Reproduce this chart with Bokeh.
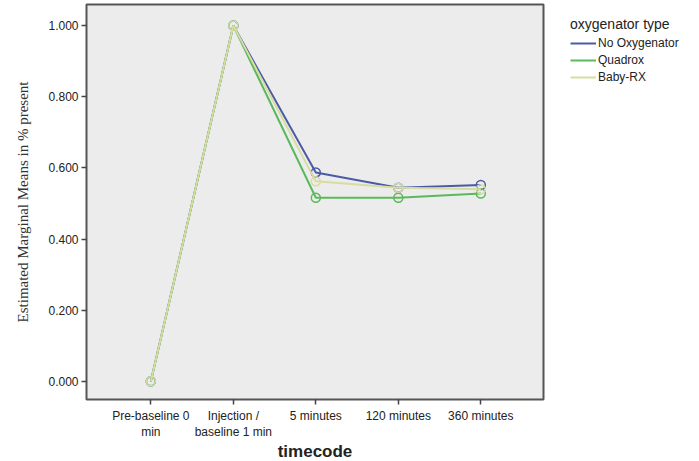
from bokeh.plotting import figure
from bokeh.models import Legend, LegendItem, FixedTicker, NumeralTickFormatter, Range1d
from bokeh.embed import file_html
from bokeh.resources import INLINE

categories = ["Pre-baseline 0\nmin", "Injection /\nbaseline 1 min", "5 minutes", "120 minutes", "360 minutes"]
x_pos = [0, 1, 2, 3, 4]
no_oxygenator = [0.0, 1.0, 0.587, 0.544, 0.552]
quadrox = [0.0, 1.0, 0.516, 0.516, 0.528]
baby_rx = [0.0, 1.0, 0.562, 0.544, 0.540]
series_names = ["No Oxygenator", "Quadrox", "Baby-RX"]
colors = ["#4b5aa6", "#5cb85c", "#d7dca0"]
y_ticks = [0.0, 0.2, 0.4, 0.6, 0.8, 1.0]

p = figure(frame_width=457, frame_height=395, output_backend="svg", toolbar_location=None,
           x_range=Range1d(-0.78, 4.76), y_range=Range1d(-0.051, 1.059))
p.min_border_top = 4
p.min_border_left = 86
p.min_border_bottom = 56
p.min_border_right = 150
p.border_fill_color = "white"
p.background_fill_color = "#ececec"
p.outline_line_color = "#555555"
p.outline_line_width = 2
p.xgrid.visible = False
p.ygrid.visible = False

renderers = []
for vals, name, col in zip([no_oxygenator, quadrox, baby_rx], series_names, colors):
    r = p.line(x_pos, vals, line_color=col, line_width=2)
    p.scatter(x_pos, vals, marker="circle", size=9, line_color=col, line_width=1.5, fill_color=None)
    renderers.append((name, r))

p.xaxis.ticker = FixedTicker(ticks=x_pos)
p.xaxis.major_label_overrides = {i: c for i, c in zip(x_pos, categories)}
p.yaxis.ticker = FixedTicker(ticks=y_ticks)
p.yaxis.formatter = NumeralTickFormatter(format="0.000")
for ax in (p.xaxis, p.yaxis):
    ax.axis_line_color = None
    ax.major_tick_line_color = "#444444"
    ax.major_tick_line_width = 1.5
    ax.major_tick_out = 5
    ax.major_tick_in = 0
    ax.minor_tick_line_color = None
    ax.major_label_text_font = "Liberation Sans"
    ax.major_label_text_font_size = "12px"
    ax.major_label_text_color = "#222222"

p.xaxis.axis_label = "timecode"
p.xaxis.axis_label_text_font = "Liberation Sans"
p.xaxis.axis_label_text_font_style = "bold"
p.xaxis.axis_label_text_font_size = "17px"
p.xaxis.axis_label_text_color = "#222222"
p.xaxis.axis_label_standoff = 0
p.xaxis.major_label_standoff = 4

p.yaxis.axis_label = "Estimated Marginal Means in % present"
p.yaxis.axis_label_text_font = "Liberation Serif"
p.yaxis.axis_label_text_font_style = "normal"
p.yaxis.axis_label_text_font_size = "15px"
p.yaxis.axis_label_text_color = "#333333"
p.yaxis.axis_label_standoff = 14
p.yaxis.major_label_standoff = 3

legend = Legend(items=[LegendItem(label=n, renderers=[r]) for n, r in renderers],
                title="oxygenator type", location=(27, 315))
legend.title_text_font = "Liberation Sans"
legend.title_text_font_style = "normal"
legend.title_text_font_size = "14px"
legend.title_text_color = "#222222"
legend.title_standoff = 4
legend.label_text_font = "Liberation Sans"
legend.label_text_font_size = "12px"
legend.label_text_color = "#222222"
legend.glyph_width = 26
legend.glyph_height = 14
legend.label_height = 14
legend.spacing = 3
legend.label_standoff = 2
legend.padding = 0
legend.margin = 0
legend.border_line_color = None
legend.background_fill_alpha = 0
p.add_layout(legend, "right")

open("out.html", "w").write(file_html(p, INLINE))
